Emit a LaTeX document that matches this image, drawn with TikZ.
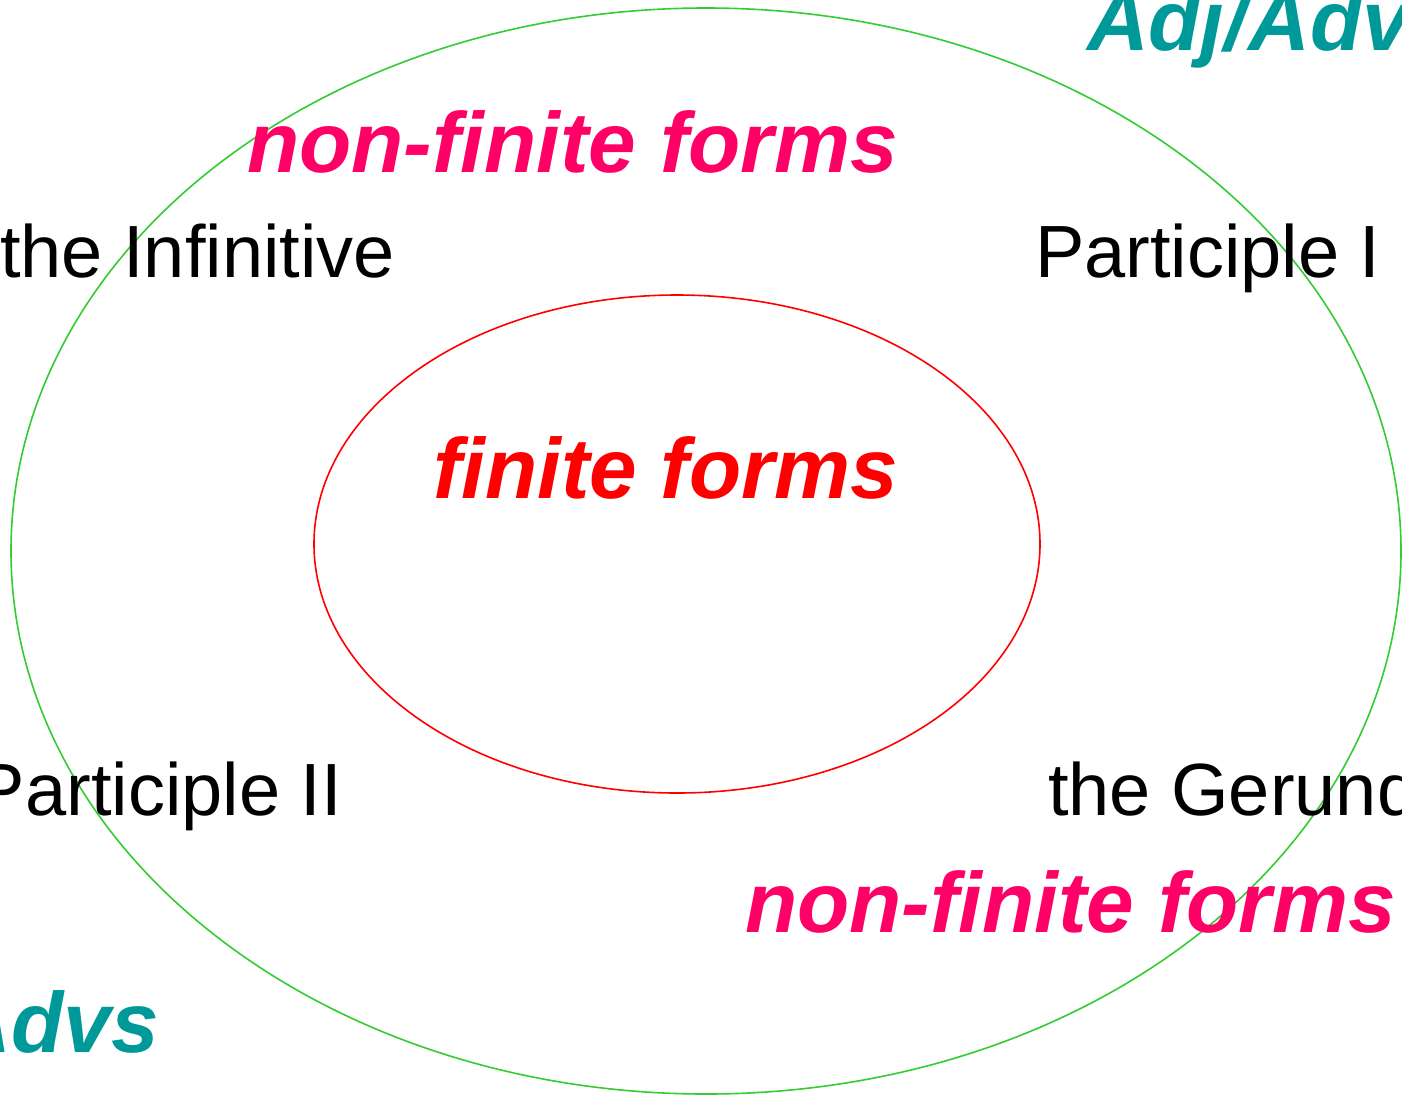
\documentclass[tikz,border=0pt]{standalone}
\usepackage{fontspec}
\setmainfont{Liberation Sans}
\definecolor{nfpink}{HTML}{FF0066}
\definecolor{fred}{HTML}{FF0000}
\definecolor{teal2}{HTML}{009999}
\definecolor{egreen}{HTML}{33CC33}
\tikzset{
  lbl/.style={anchor=base west, inner sep=0pt, outer sep=0pt, font=\fontsize{74}{80}\selectfont, text=black},
  big/.style={anchor=base west, inner sep=0pt, outer sep=0pt, font=\fontsize{85.5}{90}\selectfont\bfseries\itshape},
}
\begin{document}
\begin{tikzpicture}[x=1pt,y=-1pt]
\useasboundingbox (0,0) rectangle (1402,1096);
\clip (0,0) rectangle (1402,1096);
\fill[white] (0,0) rectangle (1402,1096);
\draw[egreen, line width=1.6pt] (706,551) ellipse [x radius=695, y radius=543];
\draw[fred, line width=1.6pt] (677,544) ellipse [x radius=363, y radius=249];
\node[big, text=nfpink] (nf1) at (247,172) {non-finite forms};
\node[big, text=nfpink] (nf2) at (745,932) {non-finite forms};
\node[big, text=fred] (ff) at (433,498) {finite forms};
\node[big, text=teal2] (adj) at (1087,50) {Adj/Advs};
\node[big, text=teal2, anchor=base east] (advs) at (159,1052) {Advs};
\node[lbl] (inf) at (0,277) {the Infinitive};
\node[lbl] (p1) at (1035,277) {Participle I};
\node[lbl] (p2) at (-24,815) {Participle II};
\node[lbl] (ger) at (1048,815) {the Gerund};
\end{tikzpicture}
\end{document}
